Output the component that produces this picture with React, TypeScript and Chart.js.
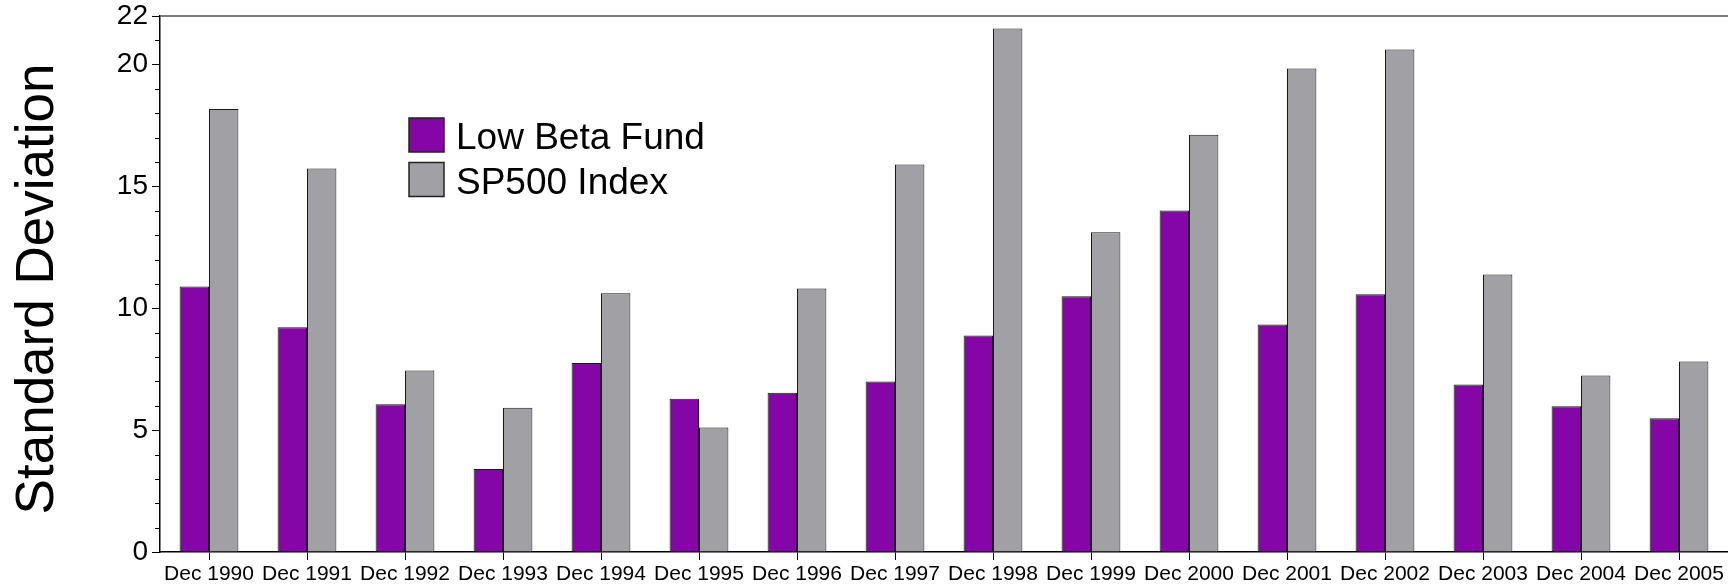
import React, { useEffect, useRef } from "react";
import { Chart, registerables } from "chart.js";

Chart.register(...registerables);

const categories = [
  "Dec 1990", "Dec 1991", "Dec 1992", "Dec 1993", "Dec 1994", "Dec 1995",
  "Dec 1996", "Dec 1997", "Dec 1998", "Dec 1999", "Dec 2000", "Dec 2001",
  "Dec 2002", "Dec 2003", "Dec 2004", "Dec 2005",
];
const lowBetaFund = [10.9, 9.22, 6.06, 3.41, 7.76, 6.29, 6.54, 7.0, 8.89, 10.5, 14.02, 9.34, 10.58, 6.87, 5.98, 5.49];
const sp500Index = [18.18, 15.74, 7.45, 5.92, 10.62, 5.11, 10.82, 15.9, 21.49, 13.12, 17.13, 19.85, 20.62, 11.39, 7.24, 7.82];
const yLabeledTicks = [0, 5, 10, 15, 20, 22];
const seriesNames = ["Low Beta Fund", "SP500 Index"];
const yTitle = "Standard Deviation";

const PURPLE = "#8506A6";
const GRAY = "#A1A0A5";
const FONT = "'Liberation Sans', Arial, Helvetica, sans-serif";

const framePlugin = {
  id: "frame",
  afterDraw(chart: any) {
    const { ctx, chartArea } = chart;
    const y = chart.scales.y;
    ctx.save();
    // top border
    ctx.strokeStyle = "#555";
    ctx.lineWidth = 1.5;
    ctx.beginPath();
    ctx.moveTo(chartArea.left, chartArea.top);
    ctx.lineTo(chartArea.right, chartArea.top);
    ctx.stroke();
    // minor ticks on y
    ctx.strokeStyle = "#000";
    ctx.lineWidth = 1;
    for (let v = 0; v <= 22; v++) {
      if (yLabeledTicks.includes(v)) continue;
      const py = Math.round(y.getPixelForValue(v)) + 0.5;
      ctx.beginPath();
      ctx.moveTo(chartArea.left - 5, py);
      ctx.lineTo(chartArea.left, py);
      ctx.stroke();
    }
    // y-axis title
    ctx.save();
    ctx.translate(53, (chartArea.top + chartArea.bottom) / 2 + 5);
    ctx.rotate(-Math.PI / 2);
    ctx.font = `53px ${FONT}`;
    ctx.fillStyle = "#000";
    ctx.textAlign = "center";
    ctx.textBaseline = "alphabetic";
    ctx.fillText(yTitle, 0, 0);
    ctx.restore();
    // legend inside plot
    const ds = chart.data.datasets;
    const bx = chartArea.left + 249;
    const by = chartArea.top + 102;
    const rowH = 44.5;
    ctx.font = `37px ${FONT}`;
    ctx.textBaseline = "alphabetic";
    ctx.textAlign = "left";
    ds.forEach((d: any, i: number) => {
      const top = by + i * rowH;
      ctx.fillStyle = d.backgroundColor;
      ctx.fillRect(bx, top, 35, 34);
      ctx.strokeStyle = "#222";
      ctx.lineWidth = 1.5;
      ctx.strokeRect(bx, top, 35, 34);
      ctx.fillStyle = "#000";
      ctx.fillText(d.label, bx + 47, top + 31);
    });
    ctx.restore();
  },
};

export default function App() {
  const ref = useRef<HTMLCanvasElement | null>(null);
  useEffect(() => {
    if (!ref.current) return;
    const chart = new Chart(ref.current, {
      type: "bar",
      data: {
        labels: categories,
        datasets: [
          {
            label: seriesNames[0],
            data: lowBetaFund,
            backgroundColor: PURPLE,
            borderColor: "#1a1a1a",
            borderWidth: 1,
            categoryPercentage: 0.6,
            barPercentage: 1.0,
          },
          {
            label: seriesNames[1],
            data: sp500Index,
            backgroundColor: GRAY,
            borderColor: "#1a1a1a",
            borderWidth: 1,
            categoryPercentage: 0.6,
            barPercentage: 1.0,
          },
        ],
      },
      options: {
        responsive: false,
        animation: false,
        devicePixelRatio: 1,
        layout: { padding: { top: 16, right: 0, left: 0, bottom: 0 } },
        plugins: {
          legend: { display: false },
          tooltip: { enabled: false },
        },
        scales: {
          x: {
            offset: true,
            grid: {
              display: true,
              offset: false,
              drawOnChartArea: false,
              drawTicks: true,
              tickLength: 8,
              tickColor: "#000",
              tickWidth: 1,
            },
            border: { display: true, color: "#000", width: 1.5 },
            ticks: {
              color: "#000",
              font: { family: FONT, size: 21 },
              padding: 2,
              maxRotation: 0,
              autoSkip: false,
            },
            afterFit: (s: any) => {
              s.height = 33;
              s.paddingLeft = 0;
              s.paddingRight = 0;
            },
          },
          y: {
            min: 0,
            max: 22,
            grid: {
              display: true,
              drawOnChartArea: false,
              drawTicks: true,
              tickLength: 8,
              tickWidth: 1,
              tickColor: (c: any) =>
                c.tick && yLabeledTicks.includes(c.tick.value) ? "#000" : "rgba(0,0,0,0)",
            },
            border: { display: true, color: "#000", width: 1.5 },
            ticks: {
              stepSize: 1,
              autoSkip: false,
              color: "#000",
              padding: 4,
              font: { family: FONT, size: 28 },
              callback: (v: any) => (yLabeledTicks.includes(Number(v)) ? String(v) : ""),
            },
            title: { display: false },
            afterFit: (s: any) => {
              s.width = 160;
              s.paddingTop = 0;
              s.paddingBottom = 0;
            },
          },
        },
      },
      plugins: [framePlugin],
    });
    return () => chart.destroy();
  }, []);
  return (
    <div style={{ position: "fixed", left: 0, top: 0, width: 1728, height: 585, background: "#fff" }}>
      <canvas ref={ref} width={1728} height={585} style={{ display: "block" }} />
    </div>
  );
}
